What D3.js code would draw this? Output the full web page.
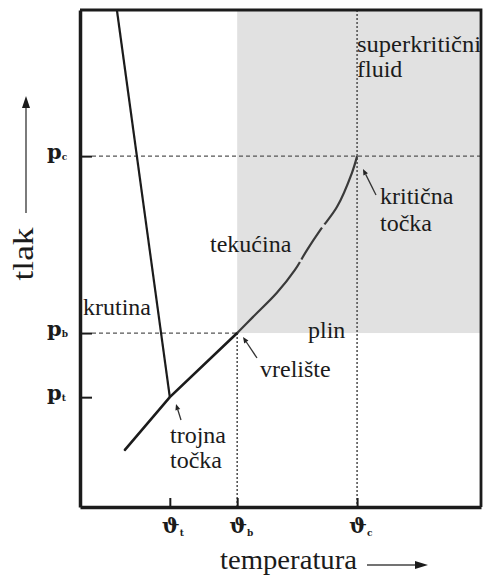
<!DOCTYPE html>
<html>
<head>
<meta charset="utf-8">
<script src="https://cdn.jsdelivr.net/npm/d3@7"></script>
<style>
  html, body { margin: 0; padding: 0; background: #fff; }
  svg { display: block; }
</style>
</head>
<body>
<svg id="chart" width="484" height="577"></svg>
<script>
// Data: abstract units, temperature 0-100 (x) and pressure 0-100 (y)
const tempTicks = [
    { sub: "t", value: 22.4 },
    { sub: "b", value: 39.2 },
    { sub: "c", value: 69.1 }
];
const pressureTicks = [
    { sub: "t", value: 22.1 },
    { sub: "b", value: 35.0 },
    { sub: "c", value: 70.6 }
];
// solid / liquid boundary (triple point up to top)
const meltingCurve = [[9.2, 100], [22.4, 22.1]];
// solid / gas and lower liquid / gas boundary, up to the boiling point
const sublimationCurve = [[11.2, 11.5], [22.4, 22.1], [39.2, 35.0]];
// liquid / gas boundary from boiling point to the critical point
const boilingCurve = [
    [39.2, 35.0], [43.1, 38.2], [49.1, 43.1], [53.6, 47.7], [56.6, 51.7],
    [59.9, 55.7], [64.1, 60.4], [67.8, 67.2], [69.1, 70.6]
];
const shadedRegion = { t0: 39.2, t1: 100, p0: 35.0, p1: 100 };

// Layout
const frame = { left: 80, right: 481, top: 10, bottom: 507 };
const ink = "#1b1b1b";
const serif = "Liberation Serif";
const slab = "DejaVu Serif";

const svg = d3.select("#chart");
const x = d3.scaleLinear().domain([0, 100]).range([frame.left, frame.right]);
const y = d3.scaleLinear().domain([0, 100]).range([frame.bottom, frame.top]);
const tick = k => tempTicks.find(d => d.sub === k).value;
const ptick = k => pressureTicks.find(d => d.sub === k).value;

// Supercritical / gas shading
svg.append("rect")
    .attr("x", x(shadedRegion.t0)).attr("y", y(shadedRegion.p1))
    .attr("width", x(shadedRegion.t1) - x(shadedRegion.t0))
    .attr("height", y(shadedRegion.p0) - y(shadedRegion.p1))
    .attr("fill", "#e1e1e1");

// Guide lines
const guides = svg.append("g").attr("stroke", "#555").attr("fill", "none");
guides.append("line")
    .attr("x1", frame.left + 12).attr("x2", x(100))
    .attr("y1", y(ptick("c"))).attr("y2", y(ptick("c")))
    .attr("stroke-width", 1.3).attr("stroke-dasharray", "4,3");
guides.append("line")
    .attr("x1", frame.left + 12).attr("x2", x(tick("b")))
    .attr("y1", y(ptick("b"))).attr("y2", y(ptick("b")))
    .attr("stroke-width", 1.3).attr("stroke-dasharray", "4,3");
guides.append("line")
    .attr("x1", x(tick("b"))).attr("x2", x(tick("b")))
    .attr("y1", y(ptick("b"))).attr("y2", y(0))
    .attr("stroke-width", 1.6).attr("stroke-dasharray", "2,2");
guides.append("line")
    .attr("x1", x(tick("c"))).attr("x2", x(tick("c")))
    .attr("y1", y(100)).attr("y2", y(0))
    .attr("stroke-width", 1.6).attr("stroke-dasharray", "2,2");

// Phase boundaries
const line = d3.line().x(d => x(d[0])).y(d => y(d[1]));
svg.append("path").datum(meltingCurve).attr("d", line)
    .attr("fill", "none").attr("stroke", ink).attr("stroke-width", 2.2);
svg.append("path").datum(sublimationCurve).attr("d", line)
    .attr("fill", "none").attr("stroke", ink).attr("stroke-width", 2.6)
    .attr("stroke-linecap", "round");
svg.append("path").datum(boilingCurve).attr("d", line.curve(d3.curveCatmullRom))
    .attr("fill", "none").attr("stroke", "#3a3a3a").attr("stroke-width", 2.2)
    .attr("stroke-dasharray", "95,3,38,4,400");

// Axes with inner ticks
const yAxis = svg.append("g").attr("transform", `translate(${frame.left},0)`)
    .call(d3.axisLeft(y).tickValues(pressureTicks.map(d => d.value))
        .tickSize(-12).tickSizeOuter(0).tickFormat(""));
const xAxis = svg.append("g").attr("transform", `translate(0,${frame.bottom})`)
    .call(d3.axisBottom(x).tickValues(tempTicks.map(d => d.value))
        .tickSize(-9).tickSizeOuter(0).tickFormat(""));
[yAxis, xAxis].forEach(a => {
    a.select(".domain").attr("stroke", ink).attr("stroke-width", 3.5);
    a.selectAll(".tick line").attr("stroke", ink).attr("stroke-width", 2);
});
// top and right border
svg.append("path")
    .attr("d", `M${frame.left},${frame.top}H${frame.right}V${frame.bottom}`)
    .attr("fill", "none").attr("stroke", ink).attr("stroke-width", 2.8);

// Tick labels with subscripts
svg.selectAll(".plabel").data(pressureTicks).enter().append("text")
    .attr("class", "plabel")
    .attr("x", 47).attr("y", d => y(d.value) + 3)
    .style("font-family", slab).style("font-weight", "bold")
    .attr("font-size", 21).attr("fill", ink)
    .call(t => {
        t.append("tspan").text("p");
        t.append("tspan").attr("font-size", 9).attr("dy", 1).text(d => d.sub);
    });
svg.selectAll(".tlabel").data(tempTicks).enter().append("text")
    .attr("class", "tlabel")
    .attr("x", d => x(d.value) - 8).attr("y", 533)
    .style("font-family", slab).style("font-weight", "bold")
    .attr("font-size", 21).attr("fill", ink)
    .call(t => {
        t.append("tspan").text("\u03D1");
        t.append("tspan").attr("font-size", 9).attr("dy", 3).text(d => d.sub);
    });

// Axis titles and arrows
svg.append("text")
    .attr("transform", "translate(33,254) rotate(-90)")
    .attr("text-anchor", "middle")
    .style("font-family", serif)
    .attr("font-size", 29).attr("fill", ink)
    .attr("textLength", 53).attr("lengthAdjust", "spacingAndGlyphs")
    .text("tlak");
svg.append("line").attr("x1", 26).attr("x2", 26).attr("y1", 213).attr("y2", 104)
    .attr("stroke", "#444").attr("stroke-width", 1.4);
svg.append("path").attr("d", "M26,96L22,108L30,108Z").attr("fill", ink);

svg.append("text")
    .attr("x", 220).attr("y", 569)
    .style("font-family", serif)
    .attr("font-size", 27).attr("fill", ink)
    .attr("textLength", 137).attr("lengthAdjust", "spacingAndGlyphs")
    .text("temperatura");
svg.append("line").attr("x1", 367).attr("x2", 418).attr("y1", 565).attr("y2", 565)
    .attr("stroke", "#444").attr("stroke-width", 1.4);
svg.append("path").attr("d", "M428,565L415,561L415,569Z").attr("fill", ink);

// Region and point labels
const labels = [
    { text: "superkritični", x: 357, y: 52, w: 124 },
    { text: "fluid", x: 357, y: 77 },
    { text: "kritična", x: 380, y: 204 },
    { text: "točka", x: 380, y: 231 },
    { text: "tekućina", x: 210, y: 252 },
    { text: "krutina", x: 83, y: 315 },
    { text: "plin", x: 308, y: 338 },
    { text: "vrelište", x: 260, y: 377 },
    { text: "trojna", x: 170, y: 443 },
    { text: "točka", x: 170, y: 468 }
];
svg.selectAll(".lbl").data(labels).enter().append("text")
    .attr("class", "lbl")
    .attr("x", d => d.x).attr("y", d => d.y)
    .style("font-family", serif)
    .attr("font-size", 24).attr("fill", ink)
    .each(function (d) {
        if (d.w) d3.select(this).attr("textLength", d.w).attr("lengthAdjust", "spacingAndGlyphs");
    })
    .text(d => d.text);

// Pointer arrows
const pointers = [
    { x1: 181, y1: 420, x2: 176, y2: 404 },
    { x1: 257, y1: 358, x2: 243, y2: 337 },
    { x1: 376, y1: 195, x2: 363, y2: 169 }
];
pointers.forEach(p => {
    const ang = Math.atan2(p.y2 - p.y1, p.x2 - p.x1);
    const hx = p.x2 - 6 * Math.cos(ang), hy = p.y2 - 6 * Math.sin(ang);
    svg.append("line").attr("x1", p.x1).attr("y1", p.y1).attr("x2", hx).attr("y2", hy)
        .attr("stroke", "#333").attr("stroke-width", 1.3);
    const nx = -Math.sin(ang) * 2.5, ny = Math.cos(ang) * 2.5;
    svg.append("path")
        .attr("d", `M${p.x2},${p.y2}L${hx + nx},${hy + ny}L${hx - nx},${hy - ny}Z`)
        .attr("fill", "#222");
});
</script>
</body>
</html>
